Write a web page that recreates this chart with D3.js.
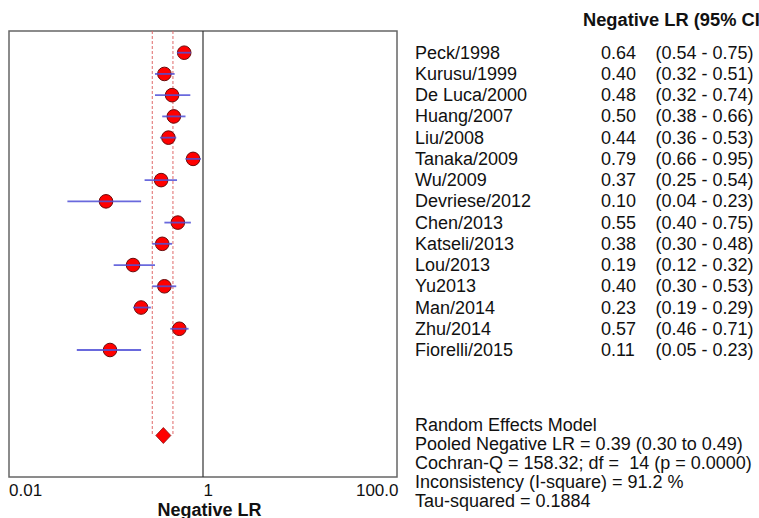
<!DOCTYPE html>
<html>
<head>
<meta charset="utf-8">
<script src="https://cdn.jsdelivr.net/npm/d3@7"></script>
<style>
  html, body { margin: 0; padding: 0; background: #fff; }
  svg { display: block; font-family: Arial, "Liberation Sans", sans-serif; }
</style>
</head>
<body>
<svg id="chart" width="759" height="518"></svg>
<script>
// Study-level negative likelihood ratios with 95% confidence limits
const studies = ["Peck/1998", "Kurusu/1999", "De Luca/2000", "Huang/2007", "Liu/2008",
  "Tanaka/2009", "Wu/2009", "Devriese/2012", "Chen/2013", "Katseli/2013",
  "Lou/2013", "Yu2013", "Man/2014", "Zhu/2014", "Fiorelli/2015"];
const lr    = [0.64, 0.40, 0.48, 0.50, 0.44, 0.79, 0.37, 0.10, 0.55, 0.38, 0.19, 0.40, 0.23, 0.57, 0.11];
const lower = [0.54, 0.32, 0.32, 0.38, 0.36, 0.66, 0.25, 0.04, 0.40, 0.30, 0.12, 0.30, 0.19, 0.46, 0.05];
const upper = [0.75, 0.51, 0.74, 0.66, 0.53, 0.95, 0.54, 0.23, 0.75, 0.48, 0.32, 0.53, 0.29, 0.71, 0.23];

// Pooled random-effects estimate
const pooled = { est: 0.39, lo: 0.30, hi: 0.49 };
const summaryLines = [
  "Random Effects Model",
  "Pooled Negative LR = 0.39 (0.30 to 0.49)",
  "Cochran-Q = 158.32; df =  14 (p = 0.0000)",
  "Inconsistency (I-square) = 91.2 %",
  "Tau-squared = 0.1884"
];
const tickValues = [0.01, 1, 100];
const tickLabels = ["0.01", "1", "100.0"];
const header = "Negative LR (95% CI)";
const axisTitle = "Negative LR";

const svg = d3.select("#chart");
const fmt = d3.format(".2f");

const box = { left: 9, right: 397, top: 31, bottom: 477 };
const x = d3.scaleLog().domain([0.01, 100]).range([box.left, box.right]);
const y = d3.scalePoint().domain(studies).range([52.7, 350]);
const poolY = 435.5;

// plot frame
svg.append("rect")
  .attr("x", box.left).attr("y", box.top)
  .attr("width", box.right - box.left).attr("height", box.bottom - box.top)
  .attr("fill", "none").attr("stroke", "#666").attr("stroke-width", 1.5);

// line of no effect
svg.append("line")
  .attr("x1", x(1)).attr("x2", x(1))
  .attr("y1", box.top).attr("y2", box.bottom)
  .attr("stroke", "#333").attr("stroke-width", 1.2);

// pooled confidence band (dashed)
[pooled.lo, pooled.hi].forEach(v => {
  svg.append("line")
    .attr("x1", x(v)).attr("x2", x(v))
    .attr("y1", box.top).attr("y2", poolY)
    .attr("stroke", "#e06a6a").attr("stroke-width", 1)
    .attr("stroke-dasharray", "3,2");
});

const rows = svg.append("g").selectAll("g")
  .data(studies.map((s, i) => ({ s, v: lr[i], lo: lower[i], hi: upper[i] })))
  .join("g");

// point estimates
rows.append("circle")
  .attr("cx", d => x(d.v)).attr("cy", d => y(d.s))
  .attr("r", 6.8)
  .attr("fill", "#ff0000").attr("stroke", "#6a0a0a").attr("stroke-width", 1);

// confidence intervals
rows.append("line")
  .attr("x1", d => x(d.lo)).attr("x2", d => x(d.hi))
  .attr("y1", d => y(d.s)).attr("y2", d => y(d.s))
  .attr("stroke", "#5050d8").attr("stroke-width", 1.8).attr("opacity", 0.85);

// pooled diamond
const px = x(pooled.est);
svg.append("path")
  .attr("d", `M${px},${poolY - 8}L${px + 7.5},${poolY}L${px},${poolY + 8}L${px - 7.5},${poolY}Z`)
  .attr("fill", "#ff0000").attr("stroke", "#8a1010").attr("stroke-width", 0.8);

// axis labels
const anchors = ["start", "start", "end"];
svg.append("g").selectAll("text")
  .data(tickValues)
  .join("text")
  .attr("x", (d, i) => i === 1 ? x(d) + 0.5 : (i === 2 ? x(d) + 1.5 : x(d)))
  .attr("y", 496)
  .attr("text-anchor", (d, i) => anchors[i])
  .attr("font-size", 17)
  .attr("fill", "#111")
  .text((d, i) => tickLabels[i]);

svg.append("text")
  .attr("x", x(1) + 6.5).attr("y", 515.5)
  .attr("text-anchor", "middle")
  .attr("font-size", 18).attr("font-weight", "bold").attr("fill", "#111")
  .text(axisTitle);

// table header (runs past the right edge)
svg.append("text")
  .attr("x", 583).attr("y", 26)
  .attr("font-size", 18.3).attr("font-weight", "bold").attr("fill", "#111")
  .text(header);

// table rows
const tbl = svg.append("g").attr("font-size", 18).attr("fill", "#111");
tbl.selectAll("text.name").data(rows.data()).join("text")
  .attr("class", "name").attr("x", 415).attr("y", d => y(d.s) + 6)
  .text(d => d.s);
tbl.selectAll("text.val").data(rows.data()).join("text")
  .attr("class", "val").attr("x", 601).attr("y", d => y(d.s) + 6)
  .text(d => fmt(d.v));
tbl.selectAll("text.ci").data(rows.data()).join("text")
  .attr("class", "ci").attr("x", 655.5).attr("y", d => y(d.s) + 6)
  .text(d => `(${fmt(d.lo)} - ${fmt(d.hi)})`);

// summary statistics
svg.append("g").attr("font-size", 18).attr("fill", "#111")
  .selectAll("text").data(summaryLines).join("text")
  .attr("x", 415).attr("y", (d, i) => 430.5 + i * 19)
  .style("white-space", "pre")
  .attr("xml:space", "preserve")
  .text(d => d);
</script>
</body>
</html>
